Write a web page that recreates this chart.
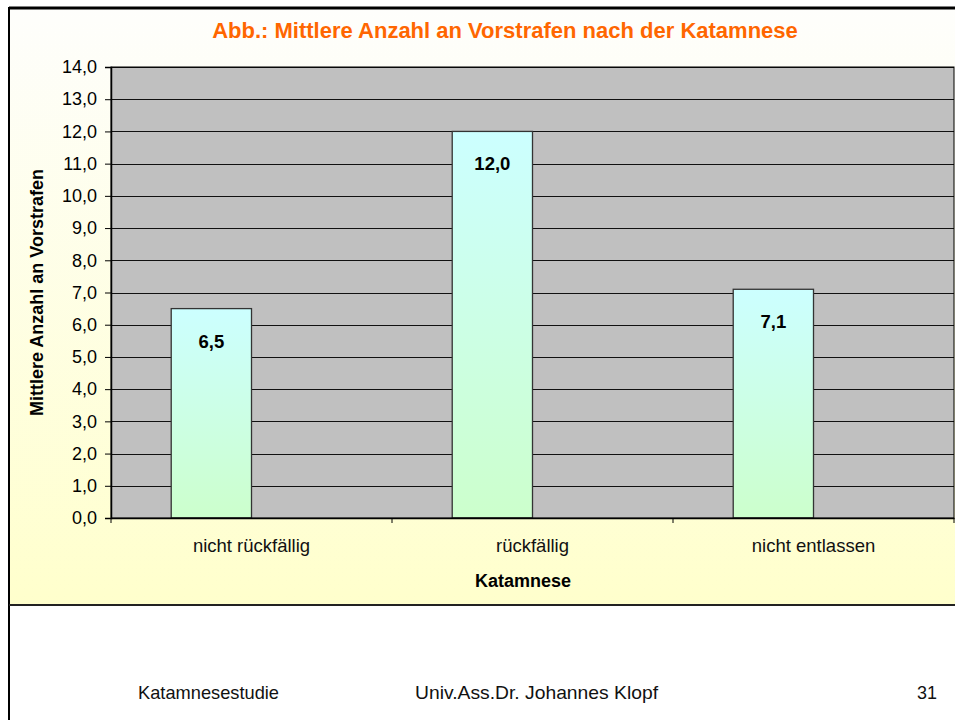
<!DOCTYPE html>
<html>
<head>
<meta charset="utf-8">
<script src="https://cdn.jsdelivr.net/npm/d3@7"></script>
<style>
  body { margin: 0; background: #fff; }
  text { font-family: "Liberation Sans", Arial, sans-serif; }
</style>
</head>
<body>
<div class="chart"></div>
<script>
const w = 955;
const h = 720;

// data
const categories = ["nicht rückfällig", "rückfällig", "nicht entlassen"];
const values = [6.5, 12.0, 7.1];
const yTicks = [0, 1, 2, 3, 4, 5, 6, 7, 8, 9, 10, 11, 12, 13, 14];
const title = "Abb.: Mittlere Anzahl an Vorstrafen nach der Katamnese";
const yTitle = "Mittlere Anzahl an Vorstrafen";
const xTitle = "Katamnese";
const footer = ["Katamnesestudie", "Univ.Ass.Dr. Johannes Klopf", "31"];

const plot = { left: 111, right: 954, top: 67, bottom: 518 };

const svg = d3
  .select(".chart")
  .append("svg")
  .attr("width", w)
  .attr("height", h);

const defs = svg.append("defs");

// chart area background: white -> pale yellow
const bgGrad = defs
  .append("linearGradient")
  .attr("id", "bgGrad")
  .attr("x1", 0).attr("y1", 0).attr("x2", 0).attr("y2", 1);
bgGrad.append("stop").attr("offset", "0%").attr("stop-color", "#fefefc");
bgGrad.append("stop").attr("offset", "100%").attr("stop-color", "#ffffcc");

// bar gradient: cyan -> light green
const barGrad = defs
  .append("linearGradient")
  .attr("id", "barGrad")
  .attr("x1", 0).attr("y1", 0).attr("x2", 0).attr("y2", 1);
barGrad.append("stop").attr("offset", "0%").attr("stop-color", "#ccffff");
barGrad.append("stop").attr("offset", "100%").attr("stop-color", "#ccffcc");

svg
  .append("rect")
  .attr("x", 9)
  .attr("y", 8)
  .attr("width", w - 9)
  .attr("height", 597)
  .attr("fill", "url(#bgGrad)");

// outer frame
svg.append("line")
  .attr("x1", 9).attr("y1", 8).attr("x2", w).attr("y2", 8)
  .attr("stroke", "#000").attr("stroke-width", 3);
svg.append("line")
  .attr("x1", 9).attr("y1", 7).attr("x2", 9).attr("y2", h)
  .attr("stroke", "#000").attr("stroke-width", 2);
svg.append("line")
  .attr("x1", 9).attr("y1", 605).attr("x2", w).attr("y2", 605)
  .attr("stroke", "#222").attr("stroke-width", 2);

// scales
const xScale = d3
  .scaleBand()
  .domain(categories)
  .range([plot.left, plot.right])
  .paddingInner(0)
  .paddingOuter(0);

// two slots per category (second one empty, like the original sheet)
const xSub = d3
  .scaleBand()
  .domain([0, 1])
  .range([0, xScale.bandwidth()])
  .paddingInner(0)
  .paddingOuter(0.75);

const yScale = d3
  .scaleLinear()
  .domain([0, 14])
  .range([plot.bottom, plot.top]);

// plot background
svg
  .append("rect")
  .attr("x", plot.left)
  .attr("y", plot.top)
  .attr("width", plot.right - plot.left)
  .attr("height", plot.bottom - plot.top)
  .attr("fill", "#c0c0c0");

// gridlines
svg
  .append("g")
  .selectAll("line")
  .data(yTicks.slice(1))
  .enter()
  .append("line")
  .attr("x1", plot.left)
  .attr("x2", plot.right)
  .attr("y1", (d) => Math.round(yScale(d)) + 0.5)
  .attr("y2", (d) => Math.round(yScale(d)) + 0.5)
  .attr("stroke", "#111")
  .attr("stroke-width", 1);

// bars
svg
  .selectAll(".bar")
  .data(values)
  .enter()
  .append("rect")
  .attr("class", "bar")
  .attr("x", (d, i) => xScale(categories[i]) + xSub(0))
  .attr("y", (d) => yScale(d))
  .attr("width", xSub.bandwidth())
  .attr("height", (d) => yScale(0) - yScale(d))
  .attr("fill", "url(#barGrad)")
  .attr("stroke", "#333")
  .attr("stroke-width", 1.3);

// value labels
svg
  .selectAll(".val")
  .data(values)
  .enter()
  .append("text")
  .attr("class", "val")
  .attr("x", (d, i) => xScale(categories[i]) + xSub(0) + xSub.bandwidth() / 2)
  .attr("y", (d) => yScale(d) + 39)
  .attr("text-anchor", "middle")
  .attr("font-size", "18.5px")
  .attr("font-weight", "bold")
  .attr("fill", "#000")
  .text((d) => d.toFixed(1).replace(".", ","));

// plot border
svg
  .append("rect")
  .attr("x", plot.left)
  .attr("y", plot.top)
  .attr("width", plot.right - plot.left)
  .attr("height", plot.bottom - plot.top)
  .attr("fill", "none")
  .attr("stroke", "#000")
  .attr("stroke-width", 1);

// y axis
const yAxis = d3
  .axisLeft(yScale)
  .tickValues(yTicks)
  .tickSize(6)
  .tickPadding(8)
  .tickFormat((d) => d.toFixed(1).replace(".", ","));

const yG = svg
  .append("g")
  .attr("transform", `translate(${plot.left},0)`)
  .call(yAxis);
yG.select(".domain").attr("stroke", "#000").attr("stroke-width", 1.5);
yG.selectAll(".tick line").attr("stroke", "#000");
yG.selectAll("text")
  .attr("font-family", "Liberation Sans, Arial, sans-serif")
  .attr("font-size", "18px")
  .attr("fill", "#000");

// x axis
const xAxis = d3
  .axisBottom(xScale)
  .tickSize(0)
  .tickPadding(21);

const xG = svg
  .append("g")
  .attr("transform", `translate(0,${plot.bottom})`)
  .call(xAxis);
xG.select(".domain").attr("stroke", "#000").attr("stroke-width", 1.5);
xG.selectAll("text")
  .attr("font-family", "Liberation Sans, Arial, sans-serif")
  .attr("font-size", "18.5px")
  .attr("fill", "#111");

// category separators
svg
  .append("g")
  .selectAll("line")
  .data(categories.concat(["end"]))
  .enter()
  .append("line")
  .attr("x1", (d, i) => (i < categories.length ? xScale(d) : plot.right))
  .attr("x2", (d, i) => (i < categories.length ? xScale(d) : plot.right))
  .attr("y1", plot.bottom)
  .attr("y2", plot.bottom + 5)
  .attr("stroke", "#000");

// titles
svg
  .append("text")
  .attr("x", 505)
  .attr("y", 38)
  .attr("text-anchor", "middle")
  .attr("font-size", "22px")
  .attr("font-weight", "bold")
  .attr("fill", "#ff6600")
  .text(title);

svg
  .append("text")
  .attr("transform", `translate(43,${(plot.top + plot.bottom) / 2}) rotate(-90)`)
  .attr("text-anchor", "middle")
  .attr("font-size", "18px")
  .attr("font-weight", "bold")
  .attr("fill", "#000")
  .text(yTitle);

svg
  .append("text")
  .attr("x", 523)
  .attr("y", 587)
  .attr("text-anchor", "middle")
  .attr("font-size", "18px")
  .attr("font-weight", "bold")
  .attr("fill", "#000")
  .text(xTitle);

// footer
const footerX = [138, 415, 917];
const footerW = [141, 243, 20];
svg
  .selectAll(".foot")
  .data(footer)
  .enter()
  .append("text")
  .attr("class", "foot")
  .attr("x", (d, i) => footerX[i])
  .attr("y", 699)
  .attr("font-family", "Liberation Sans, Arial, sans-serif")
  .attr("font-size", "19px")
  .attr("textLength", (d, i) => footerW[i])
  .attr("lengthAdjust", "spacingAndGlyphs")
  .attr("fill", "#111")
  .text((d) => d);
</script>
</body>
</html>
